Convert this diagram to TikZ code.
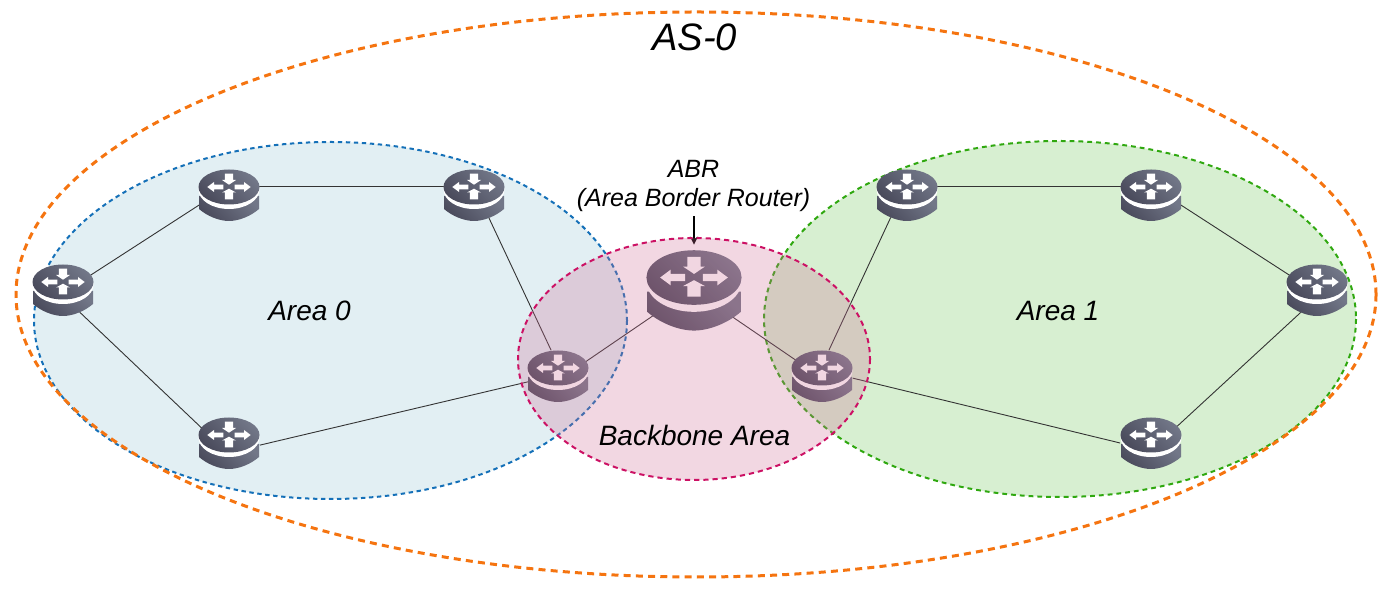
\documentclass[tikz,border=0pt]{standalone}
\usepackage{fontspec}
\setmainfont{Liberation Sans}
\usetikzlibrary{shapes.geometric,arrows.meta}
\definecolor{diskdark}{HTML}{4A4B5C}
\definecolor{disklight}{HTML}{727788}
\definecolor{areablue}{HTML}{E2EFF3}
\definecolor{areagreen}{HTML}{D7EFD1}
\definecolor{bluedash}{HTML}{1470B8}
\definecolor{greendash}{HTML}{2FA80F}
\definecolor{pinkdash}{HTML}{CC1164}
\definecolor{orangedash}{HTML}{F57410}
\definecolor{backfill}{RGB}{207,110,150}
\tikzset{
  routerbox/.style={ellipse,inner sep=0pt,minimum width=30.5pt,minimum height=26pt},
  bigbox/.style={ellipse,inner sep=0pt,minimum width=47.5pt,minimum height=41pt},
  link/.style={line width=0.45pt,draw=black!80},
  arealabel/.style={font=\itshape\fontsize{14}{16}\selectfont,inner sep=0pt},
  abrlabel/.style={font=\itshape\fontsize{12.5}{14.5}\selectfont,inner sep=0pt,align=center},
  darkshade/.style={bottom color=diskdark,top color=disklight,shading angle=-45,draw=none},
  router/.pic={
    \begin{scope}[yshift=4pt]
    \shade[darkshade] (-30,9) -- (-30,22) .. controls (-22,29) and (-10,34) .. (0,34) .. controls (10,34) and (22,29) .. (30,22) -- (30,9) -- cycle;
    \fill[white] (0,2.5) ellipse [x radius=30.5,y radius=19.5];
    \shade[darkshade] (0,0) ellipse [x radius=30.5,y radius=17.5];
    \fill[white] (-4.2,-13.3) -- (4.2,-13.3) -- (4.2,-7) -- (7,-7) -- (0,-2.3) -- (-7,-7) -- (-4.2,-7) -- cycle;
    \fill[white] (-4.2,12.3) -- (4.2,12.3) -- (4.2,5.5) -- (7,5.5) -- (0,1.7) -- (-7,5.5) -- (-4.2,5.5) -- cycle;
    \fill[white] (-5.7,-2.3) -- (-15,-2.3) -- (-15,-5) -- (-21.7,0) -- (-15,5) -- (-15,2.3) -- (-5.7,2.3) -- cycle;
    \fill[white] (5.7,-2.3) -- (15,-2.3) -- (15,-5) -- (21.7,0) -- (15,5) -- (15,2.3) -- (5.7,2.3) -- cycle;
    \end{scope}
  }
}
\begin{document}
\begin{tikzpicture}[x=0.5pt,y=-0.5pt]
\useasboundingbox (0,0) rectangle (1384,597);
% areas
\fill[areablue] (330.5,320.5) ellipse [x radius=296.5,y radius=178.5];
\draw[bluedash,line width=1pt,dash pattern=on 2.2pt off 1.8pt] (330.5,320.5) ellipse [x radius=296.5,y radius=178.5];
\fill[areagreen] (1060,319) ellipse [x radius=296,y radius=178];
\draw[greendash,line width=1pt,dash pattern=on 2.4pt off 2pt] (1060,319) ellipse [x radius=296,y radius=178];
% outer AS
\draw[orangedash,line width=1.5pt,dash pattern=on 3.5pt off 2.6pt] (696,294.5) ellipse [x radius=680,y radius=282.5];
% router nodes
\node[routerbox] (r1) at (63,290) {};
\node[routerbox] (r2) at (229,195) {};
\node[routerbox] (r3) at (474,195) {};
\node[routerbox] (r4) at (229,443) {};
\node[routerbox] (r5) at (558,376) {};
\node[routerbox] (r6) at (822,376) {};
\node[routerbox] (r7) at (907,195) {};
\node[routerbox] (r8) at (1151,195) {};
\node[routerbox] (r9) at (1317,290) {};
\node[routerbox] (r10) at (1151,443) {};
\node[bigbox] (abr) at (694,290) {};
% labels
\node[abrlabel] (abrtext) at (693.5,186) {ABR\\(Area Border Router)};
\node[font=\itshape\fontsize{19.1}{21}\selectfont,inner sep=0pt] (as) at (694.5,37) {AS-0};
\node[arealabel] (a0) at (309.5,311) {Area 0};
\node[arealabel] (a1) at (1058,311) {Area 1};
% links
\draw[link] (r1.28) -- (r2.198);
\draw[link] (r2.17) -- (r3.163);
\draw[link] (r1.-53) -- (r4.152);
\draw[link] (r4.-4) -- (r5.191);
\draw[link] (r3.-57) -- (r5.105);
\draw[link] (r5.27) -- (abr.212);
\draw[link] (abr.-35) -- (r6.149);
\draw[link] (r6.75) -- (r7.234);
\draw[link] (r7.17) -- (r8.163);
\draw[link] (r8.-18) -- (r9.152);
\draw[link] (r6.-4) -- (r10.180);
\draw[link] (r9.234) -- (r10.32);
% routers
\foreach \n in {r1,r2,r3,r4,r5,r6,r7,r8,r9,r10} {\pic at (\n) {router};}
\pic[scale=1.56] at (abr) {router};
% pointer
\draw[black,line width=0.85pt,-{Stealth[length=4pt,width=4pt]}] ([yshift=-2pt]abrtext.south -| abr) -- ([yshift=2pt]abr.north);
% backbone overlay
\fill[backfill,fill opacity=0.28] (694,359) ellipse [x radius=176,y radius=121];
\draw[pinkdash,line width=1pt,dash pattern=on 2.6pt off 2pt] (694,359) ellipse [x radius=176,y radius=121];
\node[arealabel] (bb) at (694.5,435) {Backbone Area};
\end{tikzpicture}
\end{document}
